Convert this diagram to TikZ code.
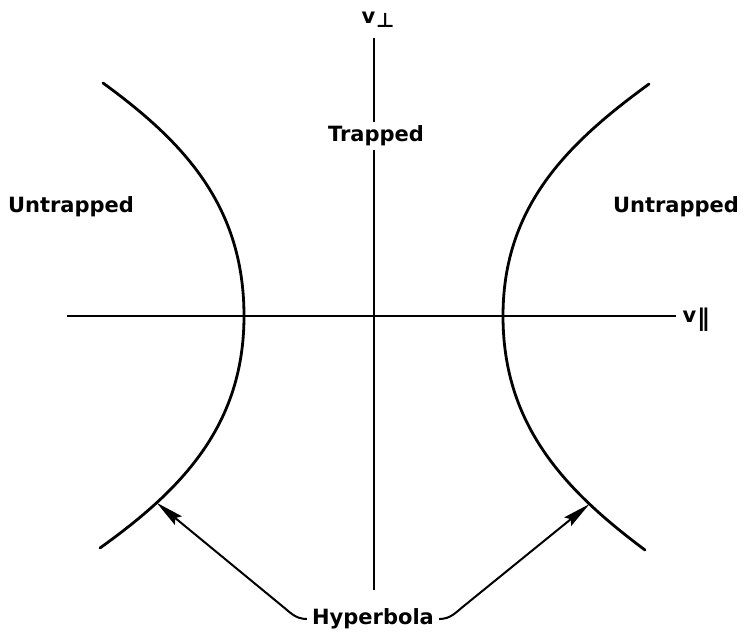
\documentclass[tikz,border=0pt]{standalone}
\usepackage{fontspec}
\setmainfont{DejaVu Sans}
\usetikzlibrary{arrows.meta,positioning}
\tikzset{
  ax/.style={line width=1.8pt},
  hyp/.style={line width=2.8pt,line cap=round},
  ar/.style={-{Stealth[length=28pt,width=11pt,inset=4pt]},line width=2pt},
  lbl/.style={font=\fontsize{21}{24}\selectfont\bfseries,inner sep=1pt},
}
\newcommand{\vsub}[1]{v\kern1pt\raisebox{-4pt}{\fontsize{20}{20}\selectfont #1}}

\begin{document}
\begin{tikzpicture}[x=1pt,y=-1pt]
\useasboundingbox (0,0) rectangle (744,638);
\draw[ax] (67,316) -- (676,316);
\draw[ax] (374,38) -- (374,590);
\node[lbl] (vperp) at (378,20) {\vsub{⊥}};
\node[lbl] (vpar) at (696,320) {\vsub{\fontsize{24}{24}\selectfont ∥}};
\node[lbl,fill=white,inner sep=4pt] (trap) at (376,136) {Trapped};
\node[lbl] (untrL) at (71,207) {Untrapped};
\node[lbl] (untrR) at (676,207) {Untrapped};
\node[lbl,inner xsep=5pt] (hypl) at (373,619) {Hyperbola};
\draw[hyp] (100,548) .. controls (181,490) and (244,426) .. coordinate[pos=0.25] (tipL) (244,316)
  .. controls (244,206) and (184,142) .. (103,83);
\draw[hyp] (645,550) .. controls (566,491) and (503,426) .. coordinate[pos=0.25] (tipR) (503,316)
  .. controls (503,206) and (568,143) .. (649,84);
\draw[ar] (hypl.west) .. controls +(-12,0) and +(9,7) .. ++(-26,-14) -- (tipL);
\draw[ar] (hypl.east) .. controls +(12,0) and +(-9,7) .. ++(26,-14) -- (tipR);
\end{tikzpicture}
\end{document}
